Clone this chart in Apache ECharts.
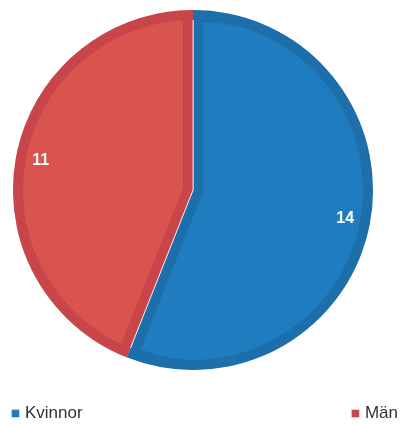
<!DOCTYPE html>
<html>
<head>
<meta charset="utf-8">
<style>
html,body{margin:0;padding:0;background:#fff;}
#chart{width:403px;height:424px;}
</style>
<script src="https://cdn.jsdelivr.net/npm/echarts@6/dist/echarts.min.js"></script>
</head>
<body>
<div id="chart"></div>
<script>
const categories = ['Kvinnor', 'Män'];
const values = [14, 11];
const lightColors = ['#1f7dbf', '#d9534f'];
const darkColors = ['#1c6fab', '#c8464a'];

const CX = 193, CY = 190, R = 180, BAND = 10;
const total = values.reduce((a, b) => a + b, 0);

function pieData(colorFn) {
  return categories.map((n, i) => ({ name: n, value: values[i], itemStyle: { color: colorFn(i) } }));
}

const series = [];
// dark base pie
series.push({
  type: 'pie', z: 1, silent: true, animation: false,
  center: [CX, CY], radius: R, startAngle: 90, clockwise: true,
  label: { show: false }, labelLine: { show: false },
  itemStyle: { borderWidth: 1, borderColor: 'rgba(255,255,255,0.7)' },
  data: pieData(i => darkColors[i])
});
// light inner slices, each inset by BAND from its own edges
let cum = 0;
values.forEach((v, k) => {
  const theta = v / total * 360;
  const s = 90 - cum / total * 360;
  const e = s - theta;
  const mid = (s + e) / 2 * Math.PI / 180;
  const shift = BAND / Math.sin(theta / 2 * Math.PI / 180);
  const cx = CX + shift * Math.cos(mid);
  const cy = CY - shift * Math.sin(mid);
  series.push({
    type: 'pie', z: 2, silent: true, animation: false,
    center: [cx, cy], radius: R - shift - 0.5, startAngle: 90, clockwise: true,
    label: { show: false }, labelLine: { show: false },
    data: pieData(i => i === k ? lightColors[i] : 'rgba(0,0,0,0)')
  });
  cum += v;
});
// outer dark ring
series.push({
  type: 'pie', z: 3, silent: true, animation: false,
  center: [CX, CY], radius: [R - BAND, R], startAngle: 90, clockwise: true,
  label: { show: false }, labelLine: { show: false },
  data: pieData(i => darkColors[i])
});
// labels
series.push({
  type: 'pie', z: 4, silent: true, animation: false,
  center: [CX, CY], radius: [124, R], startAngle: 90, clockwise: true,
  labelLine: { show: false },
  label: {
    show: true, position: 'inside', formatter: '{c}',
    color: '#fff', fontSize: 16, fontWeight: 'bold', fontFamily: 'Liberation Sans, Arial, sans-serif'
  },
  data: pieData(() => 'rgba(0,0,0,0)')
});

const chart = echarts.init(document.getElementById('chart'), null, { renderer: 'canvas' });
chart.setOption({
  animation: false,
  backgroundColor: '#fff',
  legend: [
    {
      left: 10, top: 405, padding: 0, icon: 'rect', itemWidth: 9, itemHeight: 9, selectedMode: false,
      textStyle: { fontSize: 17, color: '#333', fontFamily: 'Liberation Sans, Arial, sans-serif' },
      data: [{ name: categories[0], itemStyle: { color: lightColors[0] } }]
    },
    {
      right: 5, top: 405, padding: 0, icon: 'rect', itemWidth: 9, itemHeight: 9, selectedMode: false,
      textStyle: { fontSize: 17, color: '#333', fontFamily: 'Liberation Sans, Arial, sans-serif' },
      data: [{ name: categories[1], itemStyle: { color: darkColors[1] } }]
    }
  ],
  series: series
});
</script>
</body>
</html>
